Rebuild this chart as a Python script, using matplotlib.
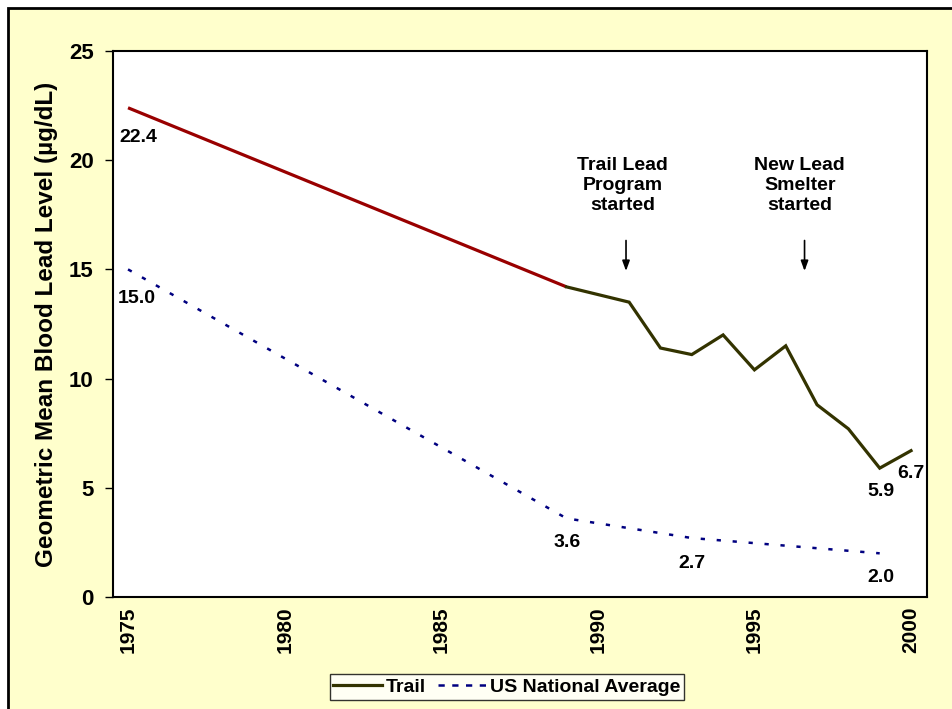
import matplotlib
matplotlib.use("Agg")
import matplotlib.pyplot as plt
from matplotlib.patches import Rectangle
from matplotlib.lines import Line2D

plt.rcParams['font.family'] = ['Liberation Sans', 'DejaVu Sans']
plt.rcParams['font.weight'] = 'bold'

# Data
trail_years = [1975, 1989, 1991, 1992, 1993, 1994, 1995, 1996, 1997, 1998, 1999, 2000]
trail_vals = [22.4, 14.2, 13.5, 11.4, 11.1, 12.0, 10.4, 11.5, 8.8, 7.7, 5.9, 6.7]
us_years = [1975, 1989, 1993, 1999]
us_vals = [15.0, 3.6, 2.7, 2.0]
xticks = [1975, 1980, 1985, 1990, 1995, 2000]
yticks = [0, 5, 10, 15, 20, 25]
labels_pts = [(1975, 22.4, "22.4"), (1975, 15.0, "15.0"), (1989, 3.6, "3.6"),
              (1993, 2.7, "2.7"), (1999, 2.0, "2.0"), (1999, 5.9, "5.9"), (2000, 6.7, "6.7")]
events = [(1990.9, 1990.8, "Trail Lead\nProgram\nstarted"), (1996.6, 1996.45, "New Lead\nSmelter\nstarted")]

W, H = 952, 709
fig = plt.figure(figsize=(W / 100, H / 100), dpi=100, facecolor='white')
# outer yellow frame
fig.patches.append(Rectangle((8 / W, -0.05), 1.2, (H - 8) / H + 0.05, transform=fig.transFigure,
                             facecolor='#FFFFCC', edgecolor='black', linewidth=2, zorder=-10))

ax = fig.add_axes([113 / W, 1 - 597 / H, (927 - 113) / W, (597 - 51) / H])
ax.set_zorder(1)
ax.set_facecolor('white')

# Trail: first segment red, rest dark olive
ax.plot(trail_years[:2], trail_vals[:2], color='#990000', lw=2.3, solid_capstyle='butt', zorder=3)
ax.plot(trail_years[1:], trail_vals[1:], color='#333300', lw=2.3, solid_joinstyle='miter', zorder=3)
ax.plot(us_years, us_vals, color='#000080', lw=1.8, linestyle=(0, (1.7, 4.7)), zorder=3)

ax.set_xlim(1974.52, 2000.51)
ax.set_ylim(0, 25)
ax.set_xticks(xticks)
ax.set_yticks(yticks)
ax.set_xticklabels([str(x) for x in xticks], rotation=90, fontsize=15, fontweight='bold')
ax.set_yticklabels([str(y) for y in yticks], fontsize=16, fontweight='bold')
ax.tick_params(axis='y', direction='out', length=5.8, width=1, pad=8)
ax.tick_params(axis='x', length=0, pad=7)
for s in ax.spines.values():
    s.set_linewidth(1.5)
    s.set_color('black')
ax.set_ylabel('Geometric Mean Blood Lead Level (µg/dL)', fontsize=17.5, fontweight='bold', labelpad=8)

# data label offsets in pixels (x right, y down)
offsets = {"22.4": (10, 30), "15.0": (9, 29), "3.6": (1, 24), "2.7": (0, 25),
           "2.0": (1, 24), "5.9": (1, 23), "6.7": (0, 23)}
for x, y, t in labels_pts:
    dx, dy = offsets[t]
    ax.annotate(t, (x, y), xytext=(dx * 0.72, -dy * 0.72), textcoords='offset points',
                ha='center', va='center', fontsize=14, fontweight='bold')

for xa, xt, t in events:
    ax.text(xt, 18.85, t, ha='center', va='center', fontsize=14, fontweight='bold',
            linespacing=1.22)
    ax.annotate('', xy=(xa, 14.8), xytext=(xa, 16.45),
                arrowprops=dict(arrowstyle='-|>,head_width=0.22,head_length=0.6', color='black', lw=1.2))

handles = [Line2D([], [], color='#333300', lw=2.3),
           Line2D([], [], color='#000080', lw=1.8, linestyle=(0, (2.5, 3)))]
leg = fig.legend(handles, ['Trail', 'US National Average'], loc='center',
                 bbox_to_anchor=(507 / W, 1 - 687 / H), ncol=2, frameon=True, fancybox=False,
                 prop={'size': 14, 'weight': 'bold'}, handlelength=2.5, columnspacing=0.6,
                 handletextpad=0.2, borderpad=0.2, borderaxespad=0)
leg.get_frame().set_edgecolor('black')
leg.get_frame().set_linewidth(1)

fig.savefig('out.png', dpi=100, facecolor='white')
